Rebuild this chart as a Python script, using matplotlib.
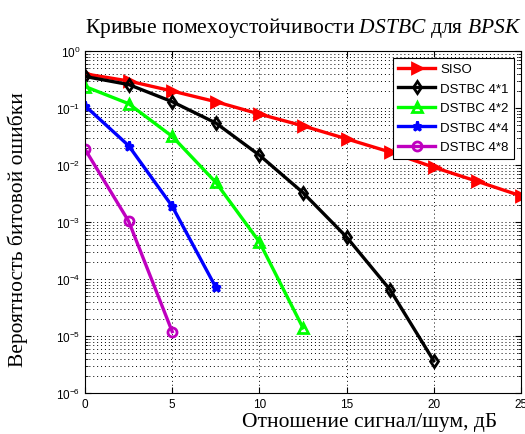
import numpy as np
import matplotlib.pyplot as plt
from matplotlib.ticker import LogLocator, NullFormatter

plt.rcParams['mathtext.fontset'] = 'custom'
plt.rcParams['mathtext.rm'] = 'Liberation Serif'
plt.rcParams['mathtext.it'] = 'Liberation Serif:italic'
plt.rcParams['font.family'] = 'Liberation Sans'

# SNR points, dB
snr = [0, 2.5, 5, 7.5, 10, 12.5, 15, 17.5, 20, 22.5, 25]

# bit error rate curves
ber_siso = [0.40, 0.30, 0.20, 0.13, 0.079, 0.049, 0.029, 0.017, 0.0092, 0.0052, 0.0029]
ber_4x1 = [0.36, 0.26, 0.13, 0.055, 0.015, 0.0033, 5.5e-4, 6.5e-5, 3.7e-6]
ber_4x2 = [0.24, 0.12, 0.032, 0.005, 4.5e-4, 1.4e-5]
ber_4x4 = [0.11, 0.022, 0.0019, 7.2e-5]
ber_4x8 = [0.019, 1.04e-3, 1.2e-5]

labels = ['SISO', 'DSTBC 4*1', 'DSTBC 4*2', 'DSTBC 4*4', 'DSTBC 4*8']

fig = plt.figure(figsize=(5.25, 4.35), dpi=100)
ax = fig.add_axes([0.162, 0.094, 0.830, 0.786])

curves = [ber_siso, ber_4x1, ber_4x2, ber_4x4, ber_4x8]
styles = [('r', '>', 'r'), ('k', 'd', 'none'), ('#00ff00', '^', 'none'),
          ('b', '*', 'b'), ('m', 'o', 'none')]
for ber, lab, (c, m, fc) in zip(curves, labels, styles):
    ax.plot(snr[:len(ber)], ber, color=c, marker=m, markerfacecolor=fc,
            markeredgecolor=c, markeredgewidth=2, markersize=6.5, linewidth=2.4,
            label=lab)

ax.set_yscale('log')
ax.set_xlim(0, 25)
ax.set_ylim(1e-6, 1)
ax.set_xticks([0, 5, 10, 15, 20, 25])
ax.yaxis.set_major_locator(LogLocator(base=10, numticks=10))
ax.yaxis.set_minor_locator(LogLocator(base=10, subs=np.arange(2, 10), numticks=10))
ax.yaxis.set_minor_formatter(NullFormatter())
ax.tick_params(which='both', direction='in', top=True, right=True, labelsize=8.5)
ax.tick_params(which='major', length=4)
ax.tick_params(which='minor', length=2)
dots = (0, (1, 3))
ax.grid(True, which='major', color='k', linestyle=dots, linewidth=0.7)
ax.grid(True, which='minor', axis='y', color='k', linestyle=dots, linewidth=0.7)
for s in ax.spines.values():
    s.set_linewidth(0.8)

ax.set_title(r'Кривые помехоустойчивости $\mathit{DSTBC}$ для $\mathit{BPSK}$',
             family='Liberation Serif', fontsize=15.5, pad=14)
ax.set_xlabel('Отношение сигнал/шум, дБ', family='Liberation Serif', fontsize=15.5)
ax.set_ylabel('Вероятность битовой ошибки', family='Liberation Serif', fontsize=15.5)
ax.xaxis.set_label_coords(0.654, -0.055)
ax.yaxis.set_label_coords(-0.13, 0.48)

leg = ax.legend(loc='upper right', fontsize=9.5, fancybox=False, framealpha=1,
                edgecolor='k', borderaxespad=0.5, handlelength=2.8,
                labelspacing=0.55, handletextpad=0.4)
leg.get_frame().set_linewidth(0.8)

fig.savefig('out.png', dpi=100)
